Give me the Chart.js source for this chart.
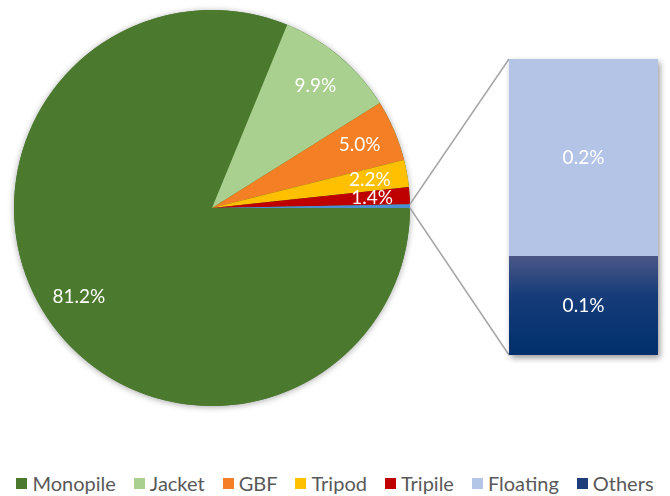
<!DOCTYPE html>
<html>
<head>
<meta charset="utf-8">
<script src="https://cdn.jsdelivr.net/npm/chart.js@4.4.0/dist/chart.umd.min.js"></script>
<style>
  html, body { margin: 0; padding: 0; background: #fff; }
  #wrap { position: relative; width: 670px; height: 496px; overflow: hidden; }
  #wrap canvas { position: absolute; left: 0; top: 0; }
  #legend {
    position: absolute; left: 0; top: 470px; width: 670px;
    display: flex; justify-content: center; gap: 18px;
    font-family: Lato, sans-serif; font-size: 20px; color: #595959; line-height: 26px;
  }
  #legend .item { display: flex; align-items: center; white-space: nowrap; }
  #legend .box { width: 11px; height: 11px; margin-right: 5px; }
</style>
</head>
<body>
<div id="wrap">
  <canvas id="pieChart" width="670" height="440"></canvas>
  <canvas id="barChart" width="670" height="440"></canvas>
  <div id="legend"></div>
</div>
<script>
// shares of installed foundations, %
const pieLabels = ['Monopile', 'Jacket', 'GBF', 'Tripod', 'Tripile', 'Floating + Others'];
const pieValues = [81.2, 9.9, 5.0, 2.2, 1.4, 0.3];

// breakdown of the small slice
const barLabels = ['Floating', 'Others'];
const barValues = [0.2, 0.1];

const legendLabels = ['Monopile', 'Jacket', 'GBF', 'Tripod', 'Tripile', 'Floating', 'Others'];

const pieColors = ['#4b7a2f', '#a9d08e', '#f47f24', '#ffc000', '#be0000', '#4a8fd3'];
const legendColors = ['#4b7a2f', '#a9d08e', '#f47f24', '#ffc000', '#be0000', '#b4c6e7', '#1f3d7a'];
const floatingColor = '#b4c4e6';

const labelFont = '19px Lato, sans-serif';

// soft shadow under the whole pie
const pieShadow = {
  id: 'pieShadow',
  beforeDatasetsDraw(chart) {
    const arc = chart.getDatasetMeta(0).data[0];
    const ctx = chart.ctx;
    ctx.save();
    ctx.shadowColor = 'rgba(0,0,0,0.35)';
    ctx.shadowBlur = 6;
    ctx.shadowOffsetY = 1;
    ctx.fillStyle = pieColors[0];
    ctx.beginPath();
    ctx.arc(arc.x, arc.y, arc.outerRadius, 0, Math.PI * 2);
    ctx.fill();
    ctx.restore();
  }
};

// percentage text inside the slices (skip the tiny last one)
const pieText = {
  id: 'pieText',
  afterDatasetsDraw(chart) {
    const ctx = chart.ctx;
    const meta = chart.getDatasetMeta(0);
    ctx.save();
    ctx.font = labelFont;
    ctx.fillStyle = '#ffffff';
    ctx.textAlign = 'center';
    ctx.textBaseline = 'middle';
    meta.data.forEach(function (arc, i) {
      if (i >= pieValues.length - 1) return;
      const mid = (arc.startAngle + arc.endAngle) / 2;
      const r = arc.outerRadius * 0.81;
      ctx.fillText(pieValues[i].toFixed(1) + '%', arc.x + Math.cos(mid) * r, arc.y + Math.sin(mid) * r);
    });
    ctx.restore();
  }
};

const pieChart = new Chart(document.getElementById('pieChart'), {
  type: 'pie',
  data: {
    labels: pieLabels,
    datasets: [{
      data: pieValues,
      backgroundColor: pieColors,
      borderWidth: 0
    }]
  },
  options: {
    responsive: false,
    animation: false,
    devicePixelRatio: 1,
    rotation: 90,
    layout: { padding: { left: 14, top: 10, right: 260, bottom: 34 } },
    plugins: { legend: { display: false }, tooltip: { enabled: false } }
  },
  plugins: [pieShadow, pieText]
});

// gray lines from the small slice to the bar, plus the bar's shadow
const barFrame = {
  id: 'barFrame',
  beforeDatasetsDraw(chart) {
    const ctx = chart.ctx;
    const slice = pieChart.getDatasetMeta(0).data[pieValues.length - 1];
    const top = chart.getDatasetMeta(1).data[0];
    const bottom = chart.getDatasetMeta(0).data[0];
    const left = top.x - top.width / 2;
    const right = top.x + top.width / 2;

    ctx.save();
    ctx.strokeStyle = '#a6a6a6';
    ctx.lineWidth = 1.5;
    ctx.beginPath();
    ctx.moveTo(slice.x + Math.cos(slice.startAngle) * slice.outerRadius,
               slice.y + Math.sin(slice.startAngle) * slice.outerRadius);
    ctx.lineTo(left, top.y);
    ctx.moveTo(slice.x + Math.cos(slice.endAngle) * slice.outerRadius,
               slice.y + Math.sin(slice.endAngle) * slice.outerRadius);
    ctx.lineTo(left, bottom.base);
    ctx.stroke();

    ctx.shadowColor = 'rgba(0,0,0,0.4)';
    ctx.shadowBlur = 6;
    ctx.shadowOffsetX = 2;
    ctx.shadowOffsetY = 3;
    ctx.fillStyle = floatingColor;
    ctx.fillRect(left, top.y, right - left, bottom.base - top.y);
    ctx.restore();
  },
  afterDatasetsDraw(chart) {
    const ctx = chart.ctx;
    ctx.save();
    ctx.font = labelFont;
    ctx.fillStyle = '#ffffff';
    ctx.textAlign = 'center';
    ctx.textBaseline = 'middle';
    chart.data.datasets.forEach(function (ds, i) {
      const bar = chart.getDatasetMeta(i).data[0];
      ctx.fillText(ds.data[0].toFixed(1) + '%', bar.x, (bar.y + bar.base) / 2);
    });
    ctx.restore();
  }
};

function othersFill(context) {
  const chart = context.chart;
  if (!chart.chartArea) return '#0f3673';
  const y = chart.scales.y;
  const g = chart.ctx.createLinearGradient(0, y.getPixelForValue(barValues[1]), 0, y.getPixelForValue(0));
  g.addColorStop(0, '#4a5786');
  g.addColorStop(0.4, '#163c79');
  g.addColorStop(1, '#00306d');
  return g;
}

new Chart(document.getElementById('barChart'), {
  type: 'bar',
  data: {
    labels: [''],
    datasets: [
      { label: barLabels[1], data: [barValues[1]], backgroundColor: othersFill },
      { label: barLabels[0], data: [barValues[0]], backgroundColor: floatingColor }
    ]
  },
  options: {
    responsive: false,
    animation: false,
    devicePixelRatio: 1,
    layout: { padding: { left: 509, right: 12, top: 59, bottom: 85 } },
    datasets: { bar: { barPercentage: 1, categoryPercentage: 1, borderWidth: 0 } },
    scales: {
      x: { stacked: true, display: false },
      y: { stacked: true, display: false, min: 0, max: 0.3 }
    },
    plugins: { legend: { display: false }, tooltip: { enabled: false } }
  },
  plugins: [barFrame]
});

// legend under the chart
const legend = document.getElementById('legend');
legendLabels.forEach(function (name, i) {
  const item = document.createElement('span');
  item.className = 'item';
  const box = document.createElement('span');
  box.className = 'box';
  box.style.background = legendColors[i];
  item.appendChild(box);
  item.appendChild(document.createTextNode(name));
  legend.appendChild(item);
});
</script>
</body>
</html>
